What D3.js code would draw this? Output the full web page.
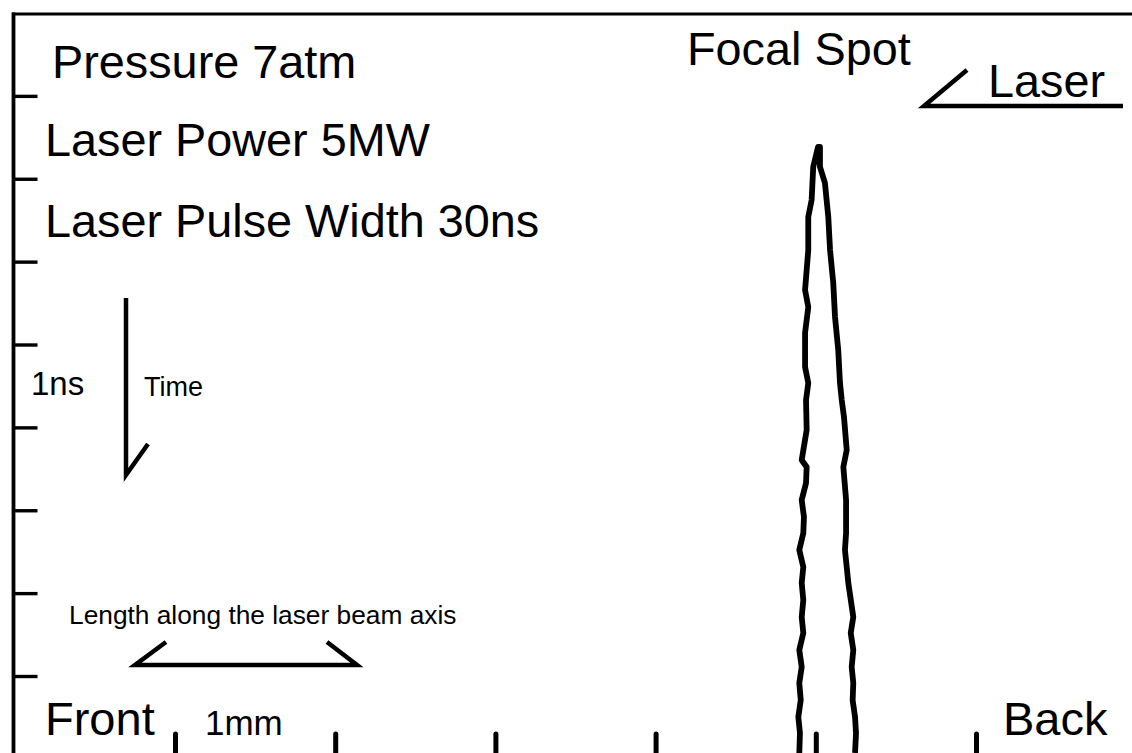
<!DOCTYPE html>
<html>
<head>
<meta charset="utf-8">
<script src="https://cdn.jsdelivr.net/npm/d3@7"></script>
<style>
  html, body { margin: 0; padding: 0; background: #fff; }
  svg { display: block; }
  text { font-family: "Liberation Sans", Arial, Helvetica, sans-serif; fill: #000; }
</style>
</head>
<body>
<svg id="chart" width="1132" height="753"></svg>
<script>
// Streak record of laser breakdown: length along the beam axis (mm) vs time (ns)
const xTicks = [0, 1, 2, 3, 4, 5];          // mm marks along the bottom edge
const yTicks = [1, 2, 3, 4, 5, 6, 7, 8];    // ns marks along the left edge

const conditions = ["Pressure 7atm", "Laser Power 5MW", "Laser Pulse Width 30ns"];

// Traced luminous front: left (front-side) edge, from the apex downwards
const leftEdgeMm = [4.014, 3.984, 3.974, 3.953, 3.953, 3.933, 3.953, 3.933, 3.933, 3.953,
  3.939, 3.943, 3.912, 3.943, 3.939, 3.912, 3.926, 3.922, 3.897, 3.922, 3.912, 3.922,
  3.912, 3.922, 3.897, 3.912, 3.897, 3.906, 3.891, 3.901, 3.897];
const leftEdgeNs = [1.617, 1.858, 2.256, 2.462, 2.860, 3.342, 3.548, 3.861, 4.271, 4.465,
  4.670, 5.032, 5.394, 5.478, 5.671, 5.876, 6.081, 6.275, 6.480, 6.685, 6.878, 7.083,
  7.288, 7.481, 7.686, 7.891, 8.084, 8.290, 8.495, 8.688, 8.929];

// Right (back-side) edge, from the apex downwards
const rightEdgeMm = [4.026, 4.026, 4.057, 4.078, 4.089, 4.109, 4.120, 4.140, 4.151, 4.162,
  4.176, 4.193, 4.172, 4.189, 4.189, 4.182, 4.193, 4.203, 4.234, 4.218, 4.234, 4.224,
  4.234, 4.230, 4.245, 4.251, 4.245];
const rightEdgeNs = [1.617, 1.858, 2.051, 2.462, 2.860, 3.258, 3.668, 4.066, 4.465, 4.670,
  4.875, 5.273, 5.478, 5.876, 6.275, 6.480, 6.685, 6.878, 7.288, 7.481, 7.686, 7.891,
  8.084, 8.290, 8.495, 8.688, 8.929];

const svg = d3.select("#chart");
const W = 1132, H = 753;
const frameLeft = 13.5, frameTop = 14;

const x = d3.scaleLinear().domain([0, 5]).range([175, 976]);
const y = d3.scaleLinear().domain([0, 8]).range([frameTop - 1, 676]);

// Frame: top border and left time axis
svg.append("line")
  .attr("x1", frameLeft - 1.5).attr("x2", W)
  .attr("y1", frameTop).attr("y2", frameTop)
  .attr("stroke", "#000").attr("stroke-width", 3);

const yAxis = svg.append("g")
  .attr("transform", `translate(${frameLeft},0)`)
  .call(d3.axisRight(y).tickValues(yTicks).tickSize(24).tickSizeOuter(0).tickFormat(""));
yAxis.select(".domain").remove();
yAxis.selectAll(".tick line").attr("stroke", "#000").attr("stroke-width", 3.4);
svg.append("line")
  .attr("x1", frameLeft).attr("x2", frameLeft)
  .attr("y1", frameTop - 1.5).attr("y2", H)
  .attr("stroke", "#000").attr("stroke-width", 3.8);

// Length marks rising from the bottom edge
const xAxis = svg.append("g")
  .attr("transform", `translate(0,${H})`)
  .call(d3.axisTop(x).tickValues(xTicks).tickSize(19).tickSizeOuter(0).tickFormat(""));
xAxis.select(".domain").remove();
xAxis.selectAll(".tick line").attr("stroke", "#000").attr("stroke-width", 5)
  .attr("stroke-linecap", "round");

// Luminous front outline
const leftEdge = leftEdgeMm.map((v, i) => [v, leftEdgeNs[i]]);
const rightEdge = rightEdgeMm.map((v, i) => [v, rightEdgeNs[i]]);
const outline = leftEdge.slice().reverse().concat(rightEdge);
const line = d3.line().x(d => x(d[0])).y(d => y(d[1]));
svg.append("path")
  .datum(outline)
  .attr("d", line)
  .attr("fill", "none").attr("stroke", "#000").attr("stroke-width", 5.8)
  .attr("stroke-linejoin", "round").attr("stroke-linecap", "butt");

// Experimental conditions
const condY = [78, 156, 237];
const condX = [52, 45, 45];
svg.selectAll("text.cond").data(conditions).join("text")
  .attr("class", "cond")
  .attr("x", (d, i) => condX[i]).attr("y", (d, i) => condY[i])
  .attr("font-size", 46.8)
  .text(d => d);

// Focal spot and laser direction
svg.append("text").attr("x", 687).attr("y", 65).attr("font-size", 46.8).text("Focal Spot");
svg.append("text").attr("x", 988).attr("y", 97).attr("font-size", 46.8).text("Laser");
svg.append("path")
  .attr("d", "M967,70 L924,106 L1123,106")
  .attr("fill", "none").attr("stroke", "#000").attr("stroke-width", 4.5)
  .attr("stroke-linejoin", "miter");

// Time direction arrow with scale label
svg.append("text").attr("x", 31).attr("y", 395).attr("font-size", 33).text("1ns");
svg.append("path")
  .attr("d", "M126,298 L126,475 L148,444")
  .attr("fill", "none").attr("stroke", "#000").attr("stroke-width", 4.5)
  .attr("stroke-linejoin", "miter");
svg.append("text").attr("x", 144).attr("y", 396).attr("font-size", 27).text("Time");

// Beam-axis length bracket
svg.append("text").attr("x", 69).attr("y", 624).attr("font-size", 26.3)
  .text("Length along the laser beam axis");
svg.append("path")
  .attr("d", "M166,642 L135,665 L357,665 L327,642")
  .attr("fill", "none").attr("stroke", "#000").attr("stroke-width", 4.5)
  .attr("stroke-linejoin", "miter");

// Front / back of the cell and the 1 mm spacing
svg.append("text").attr("x", 45).attr("y", 735).attr("font-size", 47).text("Front");
svg.append("text").attr("x", 205).attr("y", 735).attr("font-size", 35).text("1mm");
svg.append("text").attr("x", 1003).attr("y", 735).attr("font-size", 47).text("Back");
</script>
</body>
</html>
